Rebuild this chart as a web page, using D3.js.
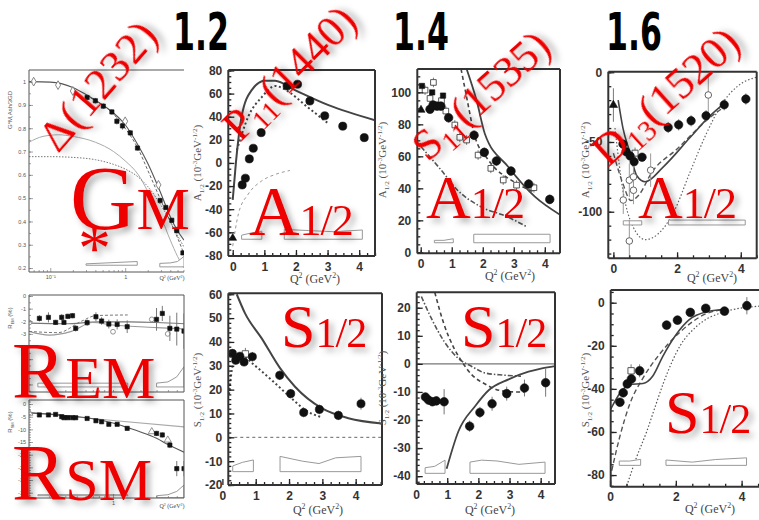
<!DOCTYPE html>
<html>
<head>
<meta charset="utf-8">
<script src="https://cdn.jsdelivr.net/npm/d3@7"></script>
<style>
  body { margin: 0; background: #fff; }
  svg { display: block; }
</style>
</head>
<body>
<svg id="chart" width="759" height="520"></svg>
<script>
// ── Data ────────────────────────────────────────────────────

// CLAS Q² bins shared by the six resonance panels
const clasQ2 = [0.3, 0.4, 0.525, 0.65, 0.9, 1.72, 2.05, 2.44, 2.91, 3.48, 4.16];

// Δ(1232) G*M / 3GD
const gmQ2   = [0.31, 0.4, 0.51, 0.665, 0.775, 0.92, 1.17, 1.46, 2.93, 3.49, 4.19, 4.89, 5.9];
const gmVal  = [0.932, 0.918, 0.895, 0.87, 0.83, 0.81, 0.78, 0.715, 0.49, 0.46, 0.405, 0.36, 0.265];
const gmErr  = [0.012, 0.012, 0.012, 0.012, 0.014, 0.016, 0.012, 0.01, 0.012, 0.01, 0.01, 0.01, 0.01];
const gmOldQ2  = [0.06, 0.127, 0.2, 1.0, 2.78];
const gmOldVal = [1.0, 0.985, 0.96, 0.83, 0.557];
const gmSolid  = [[0.052,1.0],[0.1,0.998],[0.2,0.975],[0.3,0.945],[0.5,0.9],[0.7,0.865],[1.0,0.815],[1.5,0.725],[2,0.65],[3,0.52],[4,0.42],[5,0.36],[6.1,0.32]];
const gmDashed = [[0.3,0.94],[0.7,0.86],[1,0.8],[1.5,0.71],[2,0.62],[3,0.49],[4,0.4],[5,0.33],[6.1,0.26]];
const gmLight  = [[0.052,0.74],[0.08,0.765],[0.13,0.772],[0.2,0.765],[0.4,0.74],[0.7,0.7],[1,0.66],[1.5,0.6],[2,0.53],[3,0.42],[4,0.32],[5,0.25],[6.1,0.2]];
const gmDotted = [[0.052,0.678],[0.1,0.678],[0.2,0.675],[0.4,0.665],[0.7,0.645],[1,0.625],[1.5,0.59],[2,0.55],[3,0.47],[4,0.4],[5,0.34],[6.1,0.29]];
const gmSysA = [[0.3,0.212],[1.45,0.212],[1.45,0.228],[0.3,0.218]];
const gmSysB = [[2.9,0.205],[6.1,0.205],[6.1,0.25],[5,0.228],[4,0.222],[2.9,0.22]];

// Δ(1232) REM and RSM (%)
const remQ2  = [0.156,0.196,0.235,0.274,0.29,0.32,0.36,0.39,0.52,0.65,0.75,0.9,1.11,1.43,3.0,3.47,4.2,5.0,6.0];
const remVal = [-1.77,-1.69,-2.09,-1.69,-2.09,-1.61,-1.56,-2.56,-2.11,-1.64,-1.98,-2.22,-2.25,-2.43,-1.85,-1.38,-2.56,-2.62,-2.78];
const remErr = [0.25,0.4,0.2,0.25,0.2,0.2,0.2,0.25,0.25,0.35,0.3,0.35,0.4,0.5,0.9,0.6,1.0,1.3,1.4];
const remOldQ2  = [0.121, 1.0, 2.66, 3.98];
const remOldVal = [-2.1, -2.83, -1.85, -3.0];
const remFlat   = [[0.12,-2.15],[0.3,-2.2],[0.7,-2.05],[1.5,-2.05],[3,-2.1],[6,-2.2]];
const remDip    = [[0.12,-2.8],[0.2,-3.1],[0.35,-2.8],[0.6,-2.1],[1,-2.3],[3,-2.5],[6,-2.6]];
const remDashed = [[0.12,-2.8],[0.25,-2.9],[0.45,-2.0],[0.65,-1.55],[1.45,-1.5]];
const remSysA = [[0.15,-7.2],[1.45,-7.2],[1.45,-6.9],[0.15,-6.9]];
const remSysB = [[3,-7.2],[6,-7.2],[6,-5.6],[5,-6.4],[4,-6.8],[3,-6.9]];

const rsmVal = [-4.3,-4.3,-4.1,-5.0,-5.4,-5.4,-5.4,-5.4,-5.7,-6.6,-7.0,-8.0,-8.0,-9.6,-11.6,-12.2,-16.2,-25.5,-25.5];
const rsmErr = [0.5,0.5,0.5,0.5,0.5,0.5,0.5,0.5,0.6,0.6,0.6,0.7,0.7,0.8,1.0,1.0,1.2,3.0,3.0];
const rsmOldQ2  = [0.121, 2.66, 3.98];
const rsmOldVal = [-3.6, -10.9, -14.2];
const rsmSolid  = [[0.12,-3.5],[0.3,-4.5],[0.6,-5.8],[1,-7.5],[1.5,-9.5],[2,-11],[3,-13.5],[4,-16],[6,-19]];
const rsmLight  = [[0.12,-3.3],[1,-6.5],[6,-9]];
const rsmSysA = [[0.15,-36.2],[1.45,-36.2],[1.45,-35.8],[0.15,-35.8]];
const rsmSysB = [[3,-37],[6,-37],[6,-32],[5,-34.5],[4,-35.8],[3,-36.2]];

// P11(1440)
const p11A    = [-19, -13.2, 3.5, 12.7, 26.2, 66.6, 68.1, 53.6, 40.8, 31.8, 21.9];
const p11AErr = [2, 2, 2, 2, 2.5, 3, 3, 3, 3, 3, 3];
const p11ASolid  = [[0,-32],[0.1,0],[0.28,40],[0.6,63],[1.02,71.2],[1.34,71],[1.97,63],[3.03,50],[4.5,37]];
const p11ADotted = [[0.13,11],[0.49,40],[0.92,57],[1.34,66.6],[1.76,61.7],[2.29,50],[3.03,34]];
const p11ALight  = [[0,-72],[0.18,-44],[0.49,-27],[0.92,-15.5],[1.34,-10],[1.81,-6.5]];
const p11ASysA = [[0.28,-66],[0.92,-66],[0.92,-59],[0.6,-60.5],[0.28,-62.5]];
const p11ASysB = [[1.63,-66],[4.1,-66],[4.1,-58],[3.2,-59.5],[2.4,-58.5],[1.63,-57.5]];

const p11S    = [35.2, 32.3, 34, 31.6, 33.8, 26, 18.3, 10.4, 11.7, 9.2, 14.1];
const p11SErr = [1.8, 1.8, 1.8, 1.8, 2, 2, 2, 2, 2, 2, 2.5];
const p11SSolid  = [[0.43,60],[0.68,52],[1.18,41.5],[1.73,29],[2.18,21.2],[2.98,12.2],[3.78,8],[4.8,5.8]];
const p11SDotted = [[0.2,18],[0.31,30],[0.55,35],[0.9,31],[1.48,24],[2.18,15],[2.48,11.5],[2.98,8.4]];
const p11SSysA = [[0.31,-14.4],[0.93,-14.4],[0.93,-9.5],[0.6,-10.5],[0.31,-12]];
const p11SSysB = [[1.73,-14.4],[4.16,-14.4],[4.16,-8],[3.4,-8.6],[2.9,-11],[2.4,-10],[1.73,-8]];

// S11(1535)
const s11A    = [89.4, 92.1, 91.4, 91.4, 84.1, 73.2, 62.5, 57.1, 50.8, 42.7, 33.1];
const s11AErr = [2.5, 2.5, 2.5, 2.5, 3, 3, 3, 3, 3, 3, 3];
const s11MaidQ2  = [0.04, 0.37, 0.72];
const s11MaidVal = [104, 100, 98];
const s11OldQ2  = [0.14,0.41,0.3,0.67,0.81,1.1,1.26,1.48,1.85,2.26,2.66,3.09,3.65];
const s11OldVal = [101.4,106.2,96.2,94.8,88.3,79.6,71.9,70.2,60.8,52.5,45.2,42,40.4];
const s11ASolid   = [[1.48,114.6],[1.8,95],[2.07,74],[2.82,53.5],[3.68,34.8],[4.49,23.5]];
const s11ADashed  = [[1.3,114.6],[1.45,100],[1.74,73],[2.17,58],[3.03,43.8],[3.62,38]];
const s11ADashDot = [[0.01,66],[0.65,51.6],[1.18,39],[1.93,28.6],[2.78,22.3],[3.42,16]];
const s11ASysA = [[0.44,6],[1.05,6],[1.05,8.5],[0.75,7.5],[0.44,7.5]];
const s11ASysB = [[1.71,6],[4.17,6],[4.17,11.3],[1.71,11.3]];

const s11S    = [-11.8, -12.9, -13.5, -13.2, -13.5, -22.2, -17.3, -14.2, -10.6, -8.6, -6.7];
const s11SErr = [1.5, 1.5, 1.5, 1.5, 4.5, 2, 2, 2.5, 2.5, 3, 5];
const s11SSolid   = [[0.98,-37.4],[1.36,-24],[1.9,-15],[2.33,-9.4],[2.97,-5.5],[3.61,-2.8],[4.04,-1.6],[4.46,-0.8]];
const s11SDashed  = [[0.6,25.5],[0.9,14],[1.2,6],[1.46,1],[1.8,-4],[2.2,-7.1],[2.7,-9.5],[3.17,-10],[3.5,-10]];
const s11SDashDot = [[0.17,24],[0.5,16],[0.9,8],[1.35,2],[1.8,-1],[2.2,-3.2],[2.8,-4],[3.37,-4.4]];
const s11SSysA = [[0.29,-39],[0.93,-39],[0.93,-34.3],[0.6,-36.5],[0.29,-37]];
const s11SSysB = [[1.73,-39],[4.14,-39],[4.14,-35],[3.3,-35.8],[2.6,-34.6],[2.1,-34.3],[1.73,-35]];

// D13(1520)
const d13A    = [-51.5, -57, -60, -64.1, -60.9, -39.6, -37.7, -34.8, -31.2, -23.3, -19.2];
const d13AErr = [3, 3, 3, 3, 3, 4, 4, 4, 4, 4, 4];
const d13OldQ2  = [0.31, 0.5, 0.63, 0.63, 0.5, 1.17, 2.98];
const d13OldVal = [-91.6, -77.4, -75, -84.6, -121, -70.2, -16.3];
const d13OldErr = [10, 12, 10, 10, 15, 12, 15];
const d13ASolid  = [[0.15,-20],[0.3,-40],[0.52,-57.5],[0.73,-74],[1.0,-78.5],[1.56,-68],[2.4,-47],[3.0,-32],[3.5,-22]];
const d13ADashed = [[0,-58],[0.3,-80],[0.55,-92],[0.8,-88],[1.2,-72],[2,-55],[3,-33],[3.6,-23]];
const d13ADotted = [[0.05,-40],[0.3,-85],[0.6,-110],[1.0,-120],[1.4,-116],[1.9,-100],[2.4,-72],[2.9,-45],[3.4,-23],[3.9,-10],[4.5,-3.5]];
const d13ASysA = [[0.31,-109.5],[0.89,-109.5],[0.89,-106.5],[0.31,-106.5]];
const d13ASysB = [[1.73,-109.5],[4.14,-109.5],[4.14,-106],[1.73,-106]];

const d13S    = [-46.2, -41.8, -37.7, -35.4, -31.6, -10.4, -8.1, -4.5, -2.6, -3.9, -1.4];
const d13SErr = [2, 2, 2, 2, 3, 2, 2, 2, 2, 2, 4];
const d13SSolid  = [[0,-50],[0.3,-42],[0.6,-38],[1.0,-37.5],[1.3,-34],[1.6,-25],[2.0,-15],[2.4,-8],[3.0,-4],[3.5,-3]];
const d13SDashed = [[0.05,-78],[0.3,-62],[0.6,-47],[1.0,-35],[1.5,-24],[2.13,-13.6],[2.94,-5],[3.55,-3]];
const d13SDotted = [[0.51,-85],[0.8,-72],[1.11,-60],[1.4,-47],[1.62,-37.4],[2.13,-20],[2.63,-11],[3.44,-4.4],[4.55,-1.6]];
const d13SSysA = [[0.28,-75.5],[0.93,-75.5],[0.93,-72.7],[0.6,-73.5],[0.28,-73.5]];
const d13SSysB = [[1.7,-75.5],[4.15,-75.5],[4.15,-72],[3.2,-72.8],[2.5,-74],[1.7,-73]];

const massLabels = ["1.2", "1.4", "1.6"];

// ── Setup ───────────────────────────────────────────────────

const svg = d3.select("#chart");
const defs = svg.append("defs");
const shadow = defs.append("filter").attr("id", "shadow")
  .attr("x", "-30%").attr("y", "-30%").attr("width", "170%").attr("height", "170%");
shadow.append("feDropShadow")
  .attr("dx", 4).attr("dy", 4).attr("stdDeviation", 3)
  .attr("flood-color", "#000").attr("flood-opacity", 0.32);

const RED = "#ee0000";
const INK = "#222";
const SERIF = "'Liberation Serif','DejaVu Serif',serif";
const SANS = "'Liberation Sans',Arial,sans-serif";
let clipN = 0;

function makePanel(o) {
  const x = (o.log ? d3.scaleLog() : d3.scaleLinear()).domain(o.xd).range([o.x0, o.x1]);
  const y = d3.scaleLinear().domain(o.yd).range([o.y1, o.y0]);
  const id = "clip" + (clipN++);
  defs.append("clipPath").attr("id", id).append("rect")
    .attr("x", o.x0).attr("y", o.y0).attr("width", o.x1 - o.x0).attr("height", o.y1 - o.y0);
  const g = svg.append("g");
  const inner = g.append("g").attr("clip-path", `url(#${id})`);
  return { o, x, y, g, inner };
}

function frame(p, sw, color, sides = "lbtr") {
  const { x0, x1, y0, y1 } = p.o;
  const seg = { l: [x0, y0, x0, y1], b: [x0, y1, x1, y1], t: [x0, y0, x1, y0], r: [x1, y0, x1, y1] };
  for (const s of sides) {
    const [a, b, c, d] = seg[s];
    p.g.append("line").attr("x1", a).attr("y1", b).attr("x2", c).attr("y2", d)
      .attr("stroke", color).attr("stroke-width", sw);
  }
}

// inward ticks on the left and bottom
function axes(p, a) {
  const { x0, y1 } = p.o;
  const style = (sel, size, color, weight) => {
    sel.select(".domain").remove();
    sel.selectAll("line").attr("stroke", a.tickColor || INK).attr("stroke-width", a.tickWidth || 1);
    sel.selectAll("text").attr("font-family", a.font || SANS).attr("font-size", size)
      .attr("font-weight", weight).attr("fill", color);
  };
  const ly = d3.axisLeft(p.y).tickValues(a.yMinor).tickSize(-a.minorLen).tickFormat("");
  p.g.append("g").attr("transform", `translate(${x0},0)`).call(ly).call((s) => style(s, 0, INK, 400));
  const my = d3.axisLeft(p.y).tickValues(a.yMajor).tickSize(-a.majorLen).tickPadding(a.yPad)
    .tickFormat(a.yFmt || ((d) => d));
  p.g.append("g").attr("transform", `translate(${x0},0)`).call(my)
    .call((s) => style(s, a.fontSize, a.labelColor, a.weight));

  const lx = d3.axisBottom(p.x).tickValues(a.xMinor).tickSize(-a.minorLen).tickFormat("");
  p.g.append("g").attr("transform", `translate(0,${y1})`).call(lx).call((s) => style(s, 0, INK, 400));
  const mx = d3.axisBottom(p.x).tickValues(a.xMajor).tickSize(-a.majorLen).tickPadding(a.xPad)
    .tickFormat(a.xFmt || ((d) => d));
  p.g.append("g").attr("transform", `translate(0,${y1})`).call(mx)
    .call((s) => style(s, a.fontSize, a.labelColor, a.weight));
}

function range(a, b, step) {
  return d3.range(Math.round((b - a) / step) + 1).map((i) => +(a + i * step).toFixed(4));
}

function curve(p, pts, opt = {}) {
  p.inner.append("path").datum(pts)
    .attr("d", d3.line().x((d) => p.x(d[0])).y((d) => p.y(d[1])).curve(d3.curveMonotoneX))
    .attr("fill", "none")
    .attr("stroke", opt.color || "#333")
    .attr("stroke-width", opt.width || 1.4)
    .attr("stroke-dasharray", opt.dash || null);
}

function band(p, pts) {
  p.inner.append("path").datum(pts)
    .attr("d", d3.line().x((d) => p.x(d[0])).y((d) => p.y(d[1])).curve(d3.curveLinearClosed))
    .attr("fill", "#fff").attr("stroke", "#999").attr("stroke-width", 1);
}

function points(p, xs, ys, errs, opt = {}) {
  const data = xs.map((q, i) => ({ q, v: ys[i], e: errs ? errs[i] : 0 }));
  if (errs) {
    p.inner.append("g").selectAll("line").data(data).join("line")
      .attr("x1", (d) => p.x(d.q)).attr("x2", (d) => p.x(d.q))
      .attr("y1", (d) => p.y(d.v - d.e)).attr("y2", (d) => p.y(d.v + d.e))
      .attr("stroke", opt.errColor || "#777").attr("stroke-width", 1);
  }
  const sym = d3.symbol().type(opt.type || d3.symbolCircle).size(opt.size || 50);
  p.inner.append("g").selectAll("path").data(data).join("path")
    .attr("d", sym)
    .attr("transform", (d) => `translate(${p.x(d.q)},${p.y(d.v)})`)
    .attr("fill", opt.open ? "#fff" : (opt.fill || "#111"))
    .attr("stroke", opt.stroke || "#111")
    .attr("stroke-width", opt.open ? 0.9 : 0.6);
}

function text(x, y, str, o = {}) {
  return svg.append("text").attr("x", x).attr("y", y).text(str)
    .attr("font-family", o.font || SERIF).attr("font-size", o.size || 12)
    .attr("fill", o.color || "#444").attr("text-anchor", o.anchor || "middle")
    .attr("font-weight", o.weight || 400)
    .attr("transform", o.rotate ? `rotate(${o.rotate},${x},${y})` : null);
}

function q2Label(x, y, size) {
  const t = text(x, y, "", { size });
  t.append("tspan").text("Q");
  t.append("tspan").attr("dy", -size * 0.4).attr("font-size", size * 0.65).text("2");
  t.append("tspan").attr("dy", size * 0.4).text(" (GeV");
  t.append("tspan").attr("dy", -size * 0.4).attr("font-size", size * 0.65).text("2");
  t.append("tspan").attr("dy", size * 0.4).text(")");
}

function ampLabel(x, y, letter, size) {
  const t = text(x, y, "", { size, rotate: -90, color: "#555" });
  t.append("tspan").text(letter);
  t.append("tspan").attr("dy", size * 0.3).attr("font-size", size * 0.65).text("1/2");
  t.append("tspan").attr("dy", -size * 0.3).text(" (10");
  t.append("tspan").attr("dy", -size * 0.4).attr("font-size", size * 0.65).text("-3");
  t.append("tspan").attr("dy", size * 0.4).text("GeV");
  t.append("tspan").attr("dy", -size * 0.4).attr("font-size", size * 0.65).text("-1/2");
  t.append("tspan").attr("dy", size * 0.4).text(")");
}

function ratioLabel(x, y, sub) {
  const t = text(x, y, "", { size: 6, rotate: -90, font: SANS, color: "#555" });
  t.append("tspan").text("R");
  t.append("tspan").attr("dy", 1.5).attr("font-size", 4).text(sub);
  t.append("tspan").attr("dy", -1.5).text(" (%)");
}

// ── Left column: Δ(1232) ────────────────────────────────────

const smallAxis = {
  minorLen: 2, majorLen: 4, yPad: 3, xPad: 3, fontSize: 5.5, labelColor: "#555", weight: 400,
  tickColor: "#666", tickWidth: 0.6,
};
const logMinor = [0.06,0.07,0.08,0.09,0.2,0.3,0.4,0.5,0.6,0.7,0.8,0.9,2,3,4,5,6];

const gm = makePanel({ x0: 29, x1: 184, y0: 70, y1: 272, xd: [0.052, 6.1], yd: [0.183, 1.05], log: true });
frame(gm, 1, "#555", "lbt");
axes(gm, { ...smallAxis, yMajor: range(0.2, 1, 0.1), yMinor: range(0.2, 1, 0.05),
  yFmt: (d) => d === 1 ? "1" : d3.format(".1f")(d),
  xMajor: [0.1, 1], xMinor: logMinor, xFmt: (d) => d === 1 ? "1" : "10⁻¹" });
curve(gm, gmLight, { color: "#aaa", width: 1 });
curve(gm, gmDotted, { color: "#777", width: 1, dash: "1.5 1.5" });
curve(gm, gmDashed, { color: "#666", width: 1, dash: "3 2" });
curve(gm, gmSolid, { color: "#555", width: 1.1 });
band(gm, gmSysA);
band(gm, gmSysB);
points(gm, gmOldQ2, gmOldVal, null, { type: d3.symbolDiamond, size: 22, open: true, stroke: "#777" });
points(gm, gmQ2, gmVal, gmErr, { type: d3.symbolSquare, size: 18 });
text(12, 110, "G*M,Ash/3GD", { size: 6, rotate: -90, font: SANS, color: "#555" });
q2Label(172, 280, 6);

const rem = makePanel({ x0: 29, x1: 184, y0: 295, y1: 392, xd: [0.12, 6], yd: [-7.6, 0.08], log: true });
frame(rem, 1, "#555");
axes(rem, { ...smallAxis, yMajor: range(-7, 0, 1), yMinor: range(-7.5, 0, 0.5),
  xMajor: [], xMinor: [0.2,0.3,0.4,0.5,0.6,0.7,0.8,0.9,1,2,3,4,5] });
curve(rem, remFlat, { color: "#777", width: 1.1 });
curve(rem, remDip, { color: "#999", width: 1.1 });
curve(rem, remDashed, { color: "#777", width: 1, dash: "3 2" });
band(rem, remSysA);
band(rem, remSysB);
points(rem, remOldQ2, remOldVal, null, { size: 18, open: true, stroke: "#888" });
points(rem, remQ2, remVal, remErr, { type: d3.symbolSquare, size: 18 });
ratioLabel(12, 318, "EM");

const rsm = makePanel({ x0: 29, x1: 184, y0: 400, y1: 498, xd: [0.12, 6], yd: [-37.1, 1.6], log: true });
frame(rsm, 1, "#555");
axes(rsm, { ...smallAxis, yMajor: range(-35, 0, 5), yMinor: range(-37, 1, 1),
  xMajor: [1], xMinor: [0.2,0.3,0.4,0.5,0.6,0.7,0.8,0.9,2,3,4,5], xFmt: () => "1" });
curve(rsm, rsmLight, { color: "#aaa", width: 1.1 });
curve(rsm, rsmSolid, { color: "#555", width: 1.1 });
band(rsm, rsmSysA);
band(rsm, rsmSysB);
points(rsm, rsmOldQ2, rsmOldVal, null, { type: d3.symbolTriangle, size: 22, open: true, stroke: "#888" });
points(rsm, remQ2, rsmVal, rsmErr, { type: d3.symbolSquare, size: 18 });
ratioLabel(12, 422, "SM");
q2Label(172, 508, 6);

// ── Middle / right columns ──────────────────────────────────

const bigAxis = {
  minorLen: 3, majorLen: 6, yPad: 6, xPad: 6, fontSize: 12, labelColor: "#333", weight: 700,
  tickColor: "#222", tickWidth: 1.3,
};

// P11 A1/2
const pa = makePanel({ x0: 228.3, x1: 375, y0: 70, y1: 256, xd: [-0.14, 4.5], yd: [-80.5, 80.4] });
axes(pa, { ...bigAxis, yMajor: range(-80, 80, 20), yMinor: range(-80, 80, 5),
  xMajor: [0, 1, 2, 3, 4], xMinor: range(0, 4.5, 0.25) });
frame(pa, 2, "#333");
curve(pa, p11ALight, { color: "#999", width: 1, dash: "3 3" });
curve(pa, p11ASolid, { color: "#444", width: 2 });
curve(pa, p11ADotted, { color: "#444", width: 2, dash: "2 2.5" });
band(pa, p11ASysA);
band(pa, p11ASysB);
points(pa, [0], [-65], null, { type: d3.symbolTriangle, size: 26 });
points(pa, clasQ2, p11A, p11AErr, { size: 52 });
ampLabel(201, 163, "A", 11);
q2Label(315, 283, 12);

// P11 S1/2
const ps = makePanel({ x0: 228.3, x1: 382, y0: 293.3, y1: 485, xd: [0.177, 4.79], yd: [-20, 60.4] });
axes(ps, { ...bigAxis, yMajor: range(-20, 60, 10), yMinor: range(-20, 60, 2),
  xMajor: [0, 1, 2, 3, 4], xMinor: range(0.25, 4.75, 0.25) });
frame(ps, 2, "#333");
ps.inner.append("line").attr("x1", ps.o.x0).attr("x2", ps.o.x1)
  .attr("y1", ps.y(0)).attr("y2", ps.y(0)).attr("stroke", "#666").attr("stroke-dasharray", "3 3");
curve(ps, p11SSolid, { color: "#444", width: 2 });
curve(ps, p11SDotted, { color: "#444", width: 2, dash: "2 2.5" });
band(ps, p11SSysA);
band(ps, p11SSysB);
points(ps, [0.69], [35], [2.5], { type: d3.symbolSquare, size: 40, open: true, stroke: "#555" });
points(ps, clasQ2, p11S, p11SErr, { size: 52 });
ampLabel(201, 390, "S", 11);
q2Label(318, 514, 12);

// S11 A1/2
const sa = makePanel({ x0: 417.3, x1: 560, y0: 69, y1: 253.3, xd: [-0.11, 4.49], yd: [-0.6, 114.6] });
axes(sa, { ...bigAxis, yMajor: range(0, 100, 20), yMinor: range(0, 110, 5),
  xMajor: [0, 1, 2, 3, 4], xMinor: range(0, 4.25, 0.25) });
frame(sa, 2, "#333");
curve(sa, s11ADashDot, { color: "#555", width: 1.6, dash: "5 2 1.5 2" });
curve(sa, s11ADashed, { color: "#444", width: 1.6, dash: "4 3" });
curve(sa, s11ASolid, { color: "#444", width: 1.8 });
band(sa, s11ASysA);
band(sa, s11ASysB);
points(sa, s11OldQ2, s11OldVal, s11OldQ2.map(() => 3), { type: d3.symbolSquare, size: 32, open: true, stroke: "#444" });
points(sa, s11MaidQ2, s11MaidVal, null, { type: d3.symbolSquare, size: 28 });
points(sa, [0.01], [89], null, { type: d3.symbolTriangle, size: 28 });
points(sa, clasQ2, s11A, s11AErr, { size: 58 });
ampLabel(386, 160, "A", 11);
q2Label(510, 280, 12);

// S11 S1/2
const ss = makePanel({ x0: 416.7, x1: 555, y0: 292.3, y1: 484, xd: [0.02, 4.46], yd: [-42.8, 25.5] });
axes(ss, { ...bigAxis, yMajor: range(-40, 20, 10), yMinor: range(-42, 24, 2),
  xMajor: [0, 1, 2, 3, 4], xMinor: range(0.25, 4.25, 0.25) });
frame(ss, 2, "#333");
ss.inner.append("line").attr("x1", ss.o.x0).attr("x2", ss.o.x1)
  .attr("y1", ss.y(0)).attr("y2", ss.y(0)).attr("stroke", "#777").attr("stroke-width", 1.4);
curve(ss, s11SDashDot, { color: "#555", width: 1.6, dash: "5 2 1.5 2" });
curve(ss, s11SDashed, { color: "#444", width: 1.6, dash: "4 3" });
curve(ss, s11SSolid, { color: "#444", width: 1.8 });
band(ss, s11SSysA);
band(ss, s11SSysB);
points(ss, clasQ2, s11S, s11SErr, { size: 58 });
ampLabel(386, 388, "S", 11);
q2Label(490, 514, 12);

// D13 A1/2
const da = makePanel({ x0: 608.3, x1: 756.7, y0: 71.7, y1: 258.3, xd: [-0.16, 4.5], yd: [-133.4, 0.4] });
axes(da, { ...bigAxis, yMajor: [-100, -50, 0], yMinor: range(-130, 0, 10),
  xMajor: [0, 2, 4], xMinor: range(0, 4.5, 0.5) });
frame(da, 2, "#333");
curve(da, d13ADotted, { color: "#666", width: 1.2, dash: "1.5 2" });
curve(da, d13ADashed, { color: "#555", width: 1.4, dash: "5 3" });
curve(da, d13ASolid, { color: "#444", width: 1.6 });
band(da, d13ASysA);
band(da, d13ASysB);
points(da, d13OldQ2, d13OldVal, d13OldErr, { size: 34, open: true, stroke: "#555", errColor: "#999" });
points(da, [0.68], [-58], [4], { type: d3.symbolSquare, size: 36, open: true, stroke: "#444" });
points(da, [0], [-23.5], [12], { type: d3.symbolTriangle, size: 30 });
points(da, clasQ2, d13A, d13AErr, { size: 56 });
ampLabel(589, 160, "A", 11);
q2Label(712, 282, 12);

// D13 S1/2
const ds = makePanel({ x0: 610.7, x1: 762, y0: 290, y1: 486.7, xd: [0.02, 4.62], yd: [-85.4, 5.9] });
axes(ds, { ...bigAxis, yMajor: range(-80, 0, 20), yMinor: range(-85, 5, 5),
  xMajor: [0, 2, 4], xMinor: range(0.5, 4.5, 0.5) });
frame(ds, 2, "#333");
curve(ds, d13SDotted, { color: "#555", width: 1.2, dash: "1.5 2" });
curve(ds, d13SDashed, { color: "#555", width: 1.4, dash: "5 3" });
curve(ds, d13SSolid, { color: "#444", width: 1.6 });
band(ds, d13SSysA);
band(ds, d13SSysB);
points(ds, [0.64], [-31.6], [3], { type: d3.symbolSquare, size: 40, open: true, stroke: "#444" });
points(ds, clasQ2, d13S, d13SErr, { size: 60 });
ampLabel(589, 390, "S", 11);
q2Label(710, 513, 12);

// ── Mass labels ─────────────────────────────────────────────

const massX = [173, 393, 606];
massLabels.forEach((m, i) => {
  svg.append("text").attr("x", massX[i]).attr("y", 50).text(m)
    .attr("font-family", "'DejaVu Sans',sans-serif").attr("font-weight", 700)
    .attr("font-size", 52).attr("fill", "#000")
    .attr("textLength", 56).attr("lengthAdjust", "spacingAndGlyphs");
});

// ── Red overlay labels ──────────────────────────────────────

function redText(x, y, parts, rotate = 0) {
  const t = svg.append("text").attr("x", x).attr("y", y)
    .attr("font-family", SERIF).attr("fill", RED).attr("filter", "url(#shadow)")
    .attr("transform", rotate ? `rotate(${rotate},${x},${y})` : null);
  for (const p of parts) {
    t.append("tspan").attr("font-size", p.size).attr("dy", p.dy || 0)
      .attr("letter-spacing", p.ls || 0).text(p.t);
  }
  return t;
}

redText(58, 154, [{ t: "Δ(1232)", size: 45, ls: 1 }], -49);
redText(70, 229, [{ t: "G", size: 92 }, { t: "M", size: 60 }]);
redText(78, 270, [{ t: "*", size: 66 }]);
redText(12, 398, [{ t: "R", size: 80 }, { t: "EM", size: 60 }]);
redText(12, 500, [{ t: "R", size: 80 }, { t: "SM", size: 60 }]);

redText(240, 143, [{ t: "P", size: 44 }, { t: "11", size: 28, dy: 8 }, { t: "(1440)", size: 44, dy: -8 }], -45);
redText(428, 163, [{ t: "S", size: 44 }, { t: "11", size: 28, dy: 8 }, { t: "(1535)", size: 44, dy: -8 }], -42);
redText(608, 168, [{ t: "D", size: 45 }, { t: "13", size: 29, dy: 8 }, { t: "(1520)", size: 45, dy: -8 }], -42);

redText(249, 235, [{ t: "A", size: 70 }, { t: "1/2", size: 44, ls: -1 }]);
redText(426, 218, [{ t: "A", size: 62 }, { t: "1/2", size: 44, ls: -1 }]);
redText(638, 218, [{ t: "A", size: 62 }, { t: "1/2", size: 44, ls: -1 }]);
redText(281, 347, [{ t: "S", size: 62 }, { t: "1/2", size: 42, ls: -1 }]);
redText(461, 347, [{ t: "S", size: 62 }, { t: "1/2", size: 42, ls: -1 }]);
redText(665, 433, [{ t: "S", size: 62 }, { t: "1/2", size: 42, ls: -1 }]);
</script>
</body>
</html>
